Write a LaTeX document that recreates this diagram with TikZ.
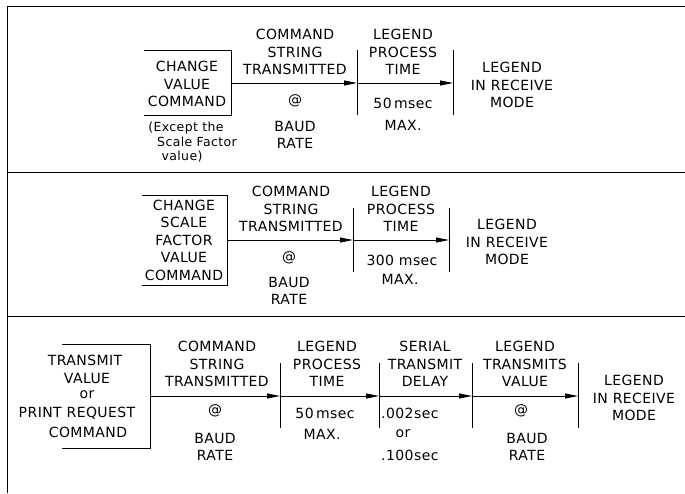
\documentclass[tikz,border=0pt]{standalone}
\usepackage{fontspec}
\setmainfont{DejaVu Sans}[LetterSpace=3]
\usetikzlibrary{arrows.meta}
\tikzset{
  lbl/.style={align=center, font=\fontsize{14}{17.5}\selectfont, inner sep=0pt},
  sml/.style={font=\fontsize{12.5}{15}\selectfont, inner sep=0pt},
  ln/.style={line width=0.8pt, line cap=butt},
  arr/.style={line width=0.8pt, -{Triangle[length=13pt,width=5pt]}},
}
\begin{document}
\begin{tikzpicture}[x=1pt,y=-1pt]
\useasboundingbox (0,0) rectangle (685,493);
% frame
\coordinate (ftl) at (7,6);
\coordinate (ftr) at (685,6);
\coordinate (fbl) at (7,493);
\coordinate (d1l) at (7,172);
\coordinate (d1r) at (685,172);
\coordinate (d2l) at (7,316);
\coordinate (d2r) at (685,316);
\draw[ln] (ftr) -- (ftl) -- (fbl);
\draw[ln] (d1l) -- (d1r);
\draw[ln] (d2l) -- (d2r);

% ===== Panel 1 =====
\node[lbl] (b1) at (187,84) {CHANGE\\VALUE\\COMMAND};
\coordinate (b1tl) at (144,50);
\coordinate (b1tr) at (231,50);
\coordinate (b1br) at (231,115);
\coordinate (b1bl) at (144,115);
\coordinate (b1o) at (231,83);
\draw[ln] (b1tl) -- (b1tr) -- (b1br) -- (b1bl);
\node[sml] (ex1) at (186,128) {(Except the};
\node[sml] (ex2) at (197,142) {Scale Factor};
\node[sml] (ex3) at (182,157) {value)};
\coordinate (p1a) at (357,83);
\coordinate (p1at) at (357,50);
\coordinate (p1ab) at (357,115);
\coordinate (p1b) at (453,83);
\coordinate (p1bt) at (453,50);
\coordinate (p1bb) at (453,115);
\draw[ln] (p1at) -- (p1ab);
\draw[ln] (p1bt) -- (p1bb);
\draw[arr] (b1o) -- (p1a);
\draw[arr] (p1a) -- (p1b);
\node[lbl] (c1) at (295,52) {COMMAND\\STRING\\TRANSMITTED};
\node[lbl] (l1) at (403,52) {LEGEND\\PROCESS\\TIME};
\node[lbl] (at1) at (295,101) {@};
\node[lbl] (br1) at (295,135) {BAUD\\RATE};
\node[lbl] (ms1) at (403,103) {50\,msec};
\node[lbl] (mx1) at (403,125) {MAX.};
\node[lbl] (r1) at (512,85) {LEGEND\\IN RECEIVE\\MODE};

% ===== Panel 2 =====
\node[lbl] (b2) at (184,240) {CHANGE\\SCALE\\FACTOR\\VALUE\\COMMAND};
\coordinate (b2tl) at (142,195);
\coordinate (b2tr) at (227,195);
\coordinate (b2br) at (227,285);
\coordinate (b2bl) at (142,285);
\coordinate (b2o) at (227,240);
\draw[ln] (b2tl) -- (b2tr) -- (b2br) -- (b2bl);
\coordinate (p2a) at (353,240);
\coordinate (p2at) at (353,208);
\coordinate (p2ab) at (353,272);
\coordinate (p2b) at (449,240);
\coordinate (p2bt) at (449,208);
\coordinate (p2bb) at (449,272);
\draw[ln] (p2at) -- (p2ab);
\draw[ln] (p2bt) -- (p2bb);
\draw[arr] (b2o) -- (p2a);
\draw[arr] (p2a) -- (p2b);
\node[lbl] (c2) at (291,209) {COMMAND\\STRING\\TRANSMITTED};
\node[lbl] (l2) at (401,209) {LEGEND\\PROCESS\\TIME};
\node[lbl] (at2) at (289,258) {@};
\node[lbl] (br2) at (289,291) {BAUD\\RATE};
\node[lbl] (ms2) at (402,260) {300 msec};
\node[lbl] (mx2) at (400,279) {MAX.};
\node[lbl] (r2) at (507,242) {LEGEND\\IN RECEIVE\\MODE};

% ===== Panel 3 =====
\node[lbl] (b3t1) at (85,360) {TRANSMIT};
\node[lbl] (b3t2) at (87,378) {VALUE};
\node[lbl] (b3t3) at (87,395) {or};
\node[lbl] (b3t4) at (77,413) {PRINT REQUEST};
\node[lbl] (b3t5) at (88,432) {COMMAND};
\coordinate (b3tl) at (62,344);
\coordinate (b3tr) at (150,344);
\coordinate (b3br) at (150,448);
\coordinate (b3bl) at (62,448);
\coordinate (b3o) at (150,396);
\draw[ln] (b3tl) -- (b3tr) -- (b3br) -- (b3bl);
\foreach \n/\x in {a/280,b/379,c/472,d/578}{
  \coordinate (p3\n) at (\x,396);
  \coordinate (p3\n t) at (\x,363);
  \coordinate (p3\n b) at (\x,428);
  \draw[ln] (p3\n t) -- (p3\n b);
}
\draw[arr] (b3o) -- (p3a);
\draw[arr] (p3a) -- (p3b);
\draw[arr] (p3b) -- (p3c);
\draw[arr] (p3c) -- (p3d);
\node[lbl] (c3) at (217,364) {COMMAND\\STRING\\TRANSMITTED};
\node[lbl] (l3) at (327,364) {LEGEND\\PROCESS\\TIME};
\node[lbl] (s3) at (425,364) {SERIAL\\TRANSMIT\\DELAY};
\node[lbl] (t3) at (525,364) {LEGEND\\TRANSMITS\\VALUE};
\node[lbl] (at3) at (215,411) {@};
\node[lbl] (br3) at (215,447) {BAUD\\RATE};
\node[lbl] (ms3) at (325,413) {50\,msec};
\node[lbl] (mx3) at (322,434) {MAX.};
\node[lbl, anchor=west] (d3a) at (381,413) {.002sec};
\node[lbl] (d3b) at (403,434) {or};
\node[lbl, anchor=west] (d3c) at (381,455) {.100sec};
\node[lbl] (at4) at (521,411) {@};
\node[lbl] (br4) at (527,447) {BAUD\\RATE};
\node[lbl] (r3) at (634,398) {LEGEND\\IN RECEIVE\\MODE};
\end{tikzpicture}
\end{document}
